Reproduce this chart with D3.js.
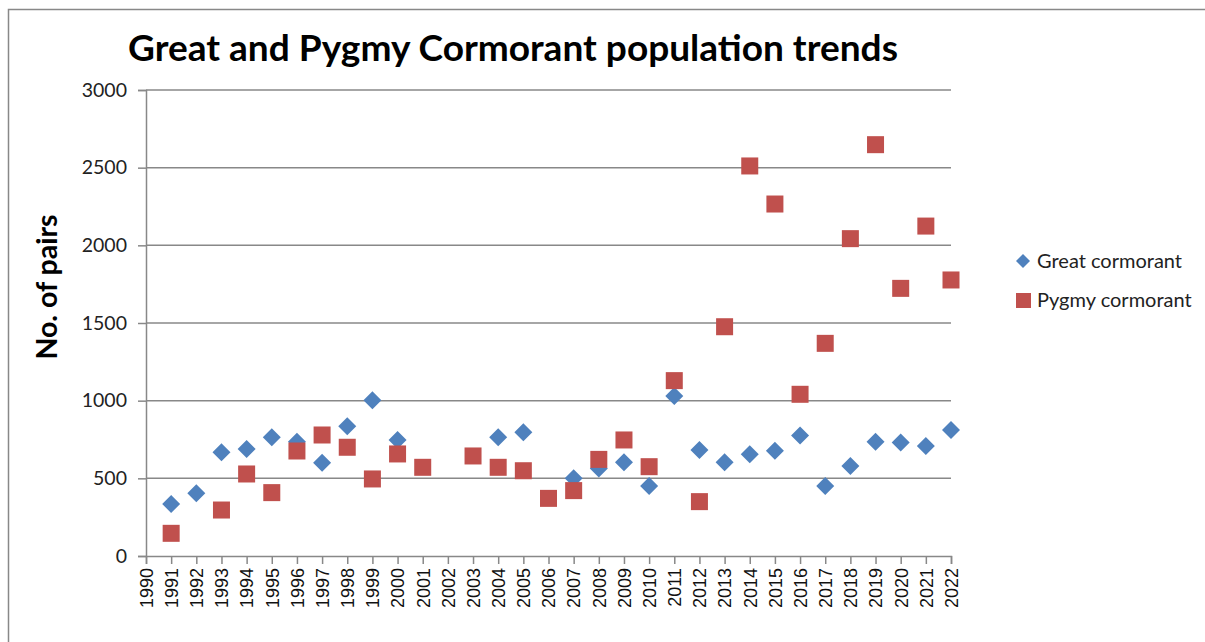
<!DOCTYPE html>
<html lang="en">
<head>
    <meta charset="UTF-8">
    <title>Great and Pygmy Cormorant population trends</title>
    <script src="https://cdnjs.cloudflare.com/ajax/libs/d3/7.8.5/d3.min.js"></script>
    <style>
        body { margin: 0; background: #fff; }
        svg { display: block; }
    </style>
</head>
<body>
    <svg id="chart" width="1205" height="642"></svg>

    <script>
        // years and counts (years with no survey are left out)
        const years = d3.range(1990, 2023);
        const greatYears = [1991, 1992, 1993, 1994, 1995, 1996, 1997, 1998, 1999, 2000,
            2004, 2005, 2007, 2008, 2009, 2010, 2011, 2012, 2013, 2014, 2015, 2016,
            2017, 2018, 2019, 2020, 2021, 2022];
        const greatPairs = [335, 404, 668, 689, 764, 736, 601, 835, 1002, 747,
            764, 796, 500, 564, 603, 451, 1030, 682, 603, 655, 678, 775,
            451, 579, 736, 730, 708, 811];
        const pygmyYears = [1991, 1993, 1994, 1995, 1996, 1997, 1998, 1999, 2000, 2001,
            2003, 2004, 2005, 2006, 2007, 2008, 2009, 2010, 2011, 2012, 2013, 2014,
            2015, 2016, 2017, 2018, 2019, 2020, 2021, 2022];
        const pygmyPairs = [146, 296, 528, 408, 676, 779, 700, 496, 657, 571,
            644, 571, 549, 371, 421, 622, 747, 575, 1129, 350, 1476, 2511,
            2266, 1041, 1369, 2043, 2648, 1723, 2124, 1777];
        const yTicks = [0, 500, 1000, 1500, 2000, 2500, 3000];
        const seriesNames = ["Great cormorant", "Pygmy cormorant"];

        const blue = "#4f81bd", red = "#c0504d", grid = "#888888";
        const svg = d3.select("#chart");

        // outer chart frame (runs off the right/bottom of the picture)
        svg.append("rect")
            .attr("x", 8.5).attr("y", 9.5)
            .attr("width", 1300).attr("height", 700)
            .attr("fill", "#fff").attr("stroke", grid).attr("stroke-width", 1.5);

        const x = d3.scaleLinear().domain([1990, 2022]).range([146, 951]);
        const y = d3.scaleLinear().domain([0, 3000]).range([556, 90]);

        // gridlines
        svg.append("g")
            .selectAll("line")
            .data(yTicks.slice(1))
            .join("line")
            .attr("x1", x(1990)).attr("x2", x(2022))
            .attr("y1", d => y(d)).attr("y2", d => y(d))
            .attr("stroke", grid).attr("stroke-width", 1.5);

        // y axis
        const yAxis = svg.append("g")
            .attr("transform", `translate(${x(1990)},0)`)
            .call(d3.axisLeft(y).tickValues(yTicks).tickFormat(d3.format("d"))
                .tickSize(8).tickPadding(11));
        yAxis.select(".domain").attr("stroke", grid).attr("stroke-width", 1.5);
        yAxis.selectAll(".tick line").attr("stroke", grid).attr("stroke-width", 1.5);
        yAxis.selectAll("text")
            .attr("font-family", "Lato, sans-serif")
            .attr("font-size", 19.5)
            .attr("fill", "#222");

        // x axis with rotated year labels
        const xAxis = svg.append("g")
            .attr("transform", `translate(0,${y(0)})`)
            .call(d3.axisBottom(x).tickValues(years).tickFormat(d3.format("d")).tickSize(8));
        xAxis.select(".domain").attr("stroke", grid).attr("stroke-width", 1.5);
        xAxis.selectAll(".tick line").attr("stroke", grid).attr("stroke-width", 1.5);
        xAxis.selectAll("text")
            .attr("font-family", "'Liberation Sans', Arial, sans-serif")
            .attr("font-size", 18)
            .attr("fill", "#111")
            .attr("text-anchor", "end")
            .attr("dy", "0.35em")
            .attr("transform", "translate(0,12) rotate(-90)")
            .attr("x", 0).attr("y", 0);

        // points
        const great = greatYears.map((yr, i) => ({ year: yr, value: greatPairs[i] }));
        const pygmy = pygmyYears.map((yr, i) => ({ year: yr, value: pygmyPairs[i] }));

        svg.append("g")
            .selectAll("path")
            .data(great)
            .join("path")
            .attr("d", "M0,-9L9,0L0,9L-9,0Z")
            .attr("transform", d => `translate(${x(d.year)},${y(d.value)})`)
            .attr("fill", blue);

        svg.append("g")
            .selectAll("rect")
            .data(pygmy)
            .join("rect")
            .attr("x", d => x(d.year) - 8.5)
            .attr("y", d => y(d.value) - 8.5)
            .attr("width", 17).attr("height", 17)
            .attr("fill", red);

        // title
        const title = svg.append("text")
            .attr("x", 513).attr("y", 61)
            .attr("text-anchor", "middle")
            .attr("font-family", "Lato, sans-serif")
            .attr("font-weight", "bold")
            .attr("font-size", 33)
            .attr("fill", "#000")
            .text("Great and Pygmy Cormorant population trends");
        const tw = title.node().getComputedTextLength();
        title.attr("font-size", 33 * 770 / tw);

        // y axis title
        svg.append("text")
            .attr("transform", "translate(57,287) rotate(-90)")
            .attr("text-anchor", "middle")
            .attr("font-family", "Lato, sans-serif")
            .attr("font-weight", "bold")
            .attr("font-size", 28.5)
            .attr("fill", "#000")
            .text("No. of pairs");

        // legend
        const legend = svg.append("g");
        legend.append("path")
            .attr("d", "M0,-7L7,0L0,7L-7,0Z")
            .attr("transform", "translate(1023,261)")
            .attr("fill", blue);
        legend.append("rect")
            .attr("x", 1016).attr("y", 293)
            .attr("width", 15).attr("height", 15)
            .attr("fill", red);
        legend.selectAll("text")
            .data(seriesNames)
            .join("text")
            .attr("x", 1037)
            .attr("y", (d, i) => 261 + i * 39)
            .attr("dy", "0.35em")
            .attr("font-family", "Lato, sans-serif")
            .attr("font-size", 20)
            .attr("fill", "#222")
            .text(d => d);
    </script>
</body>
</html>
